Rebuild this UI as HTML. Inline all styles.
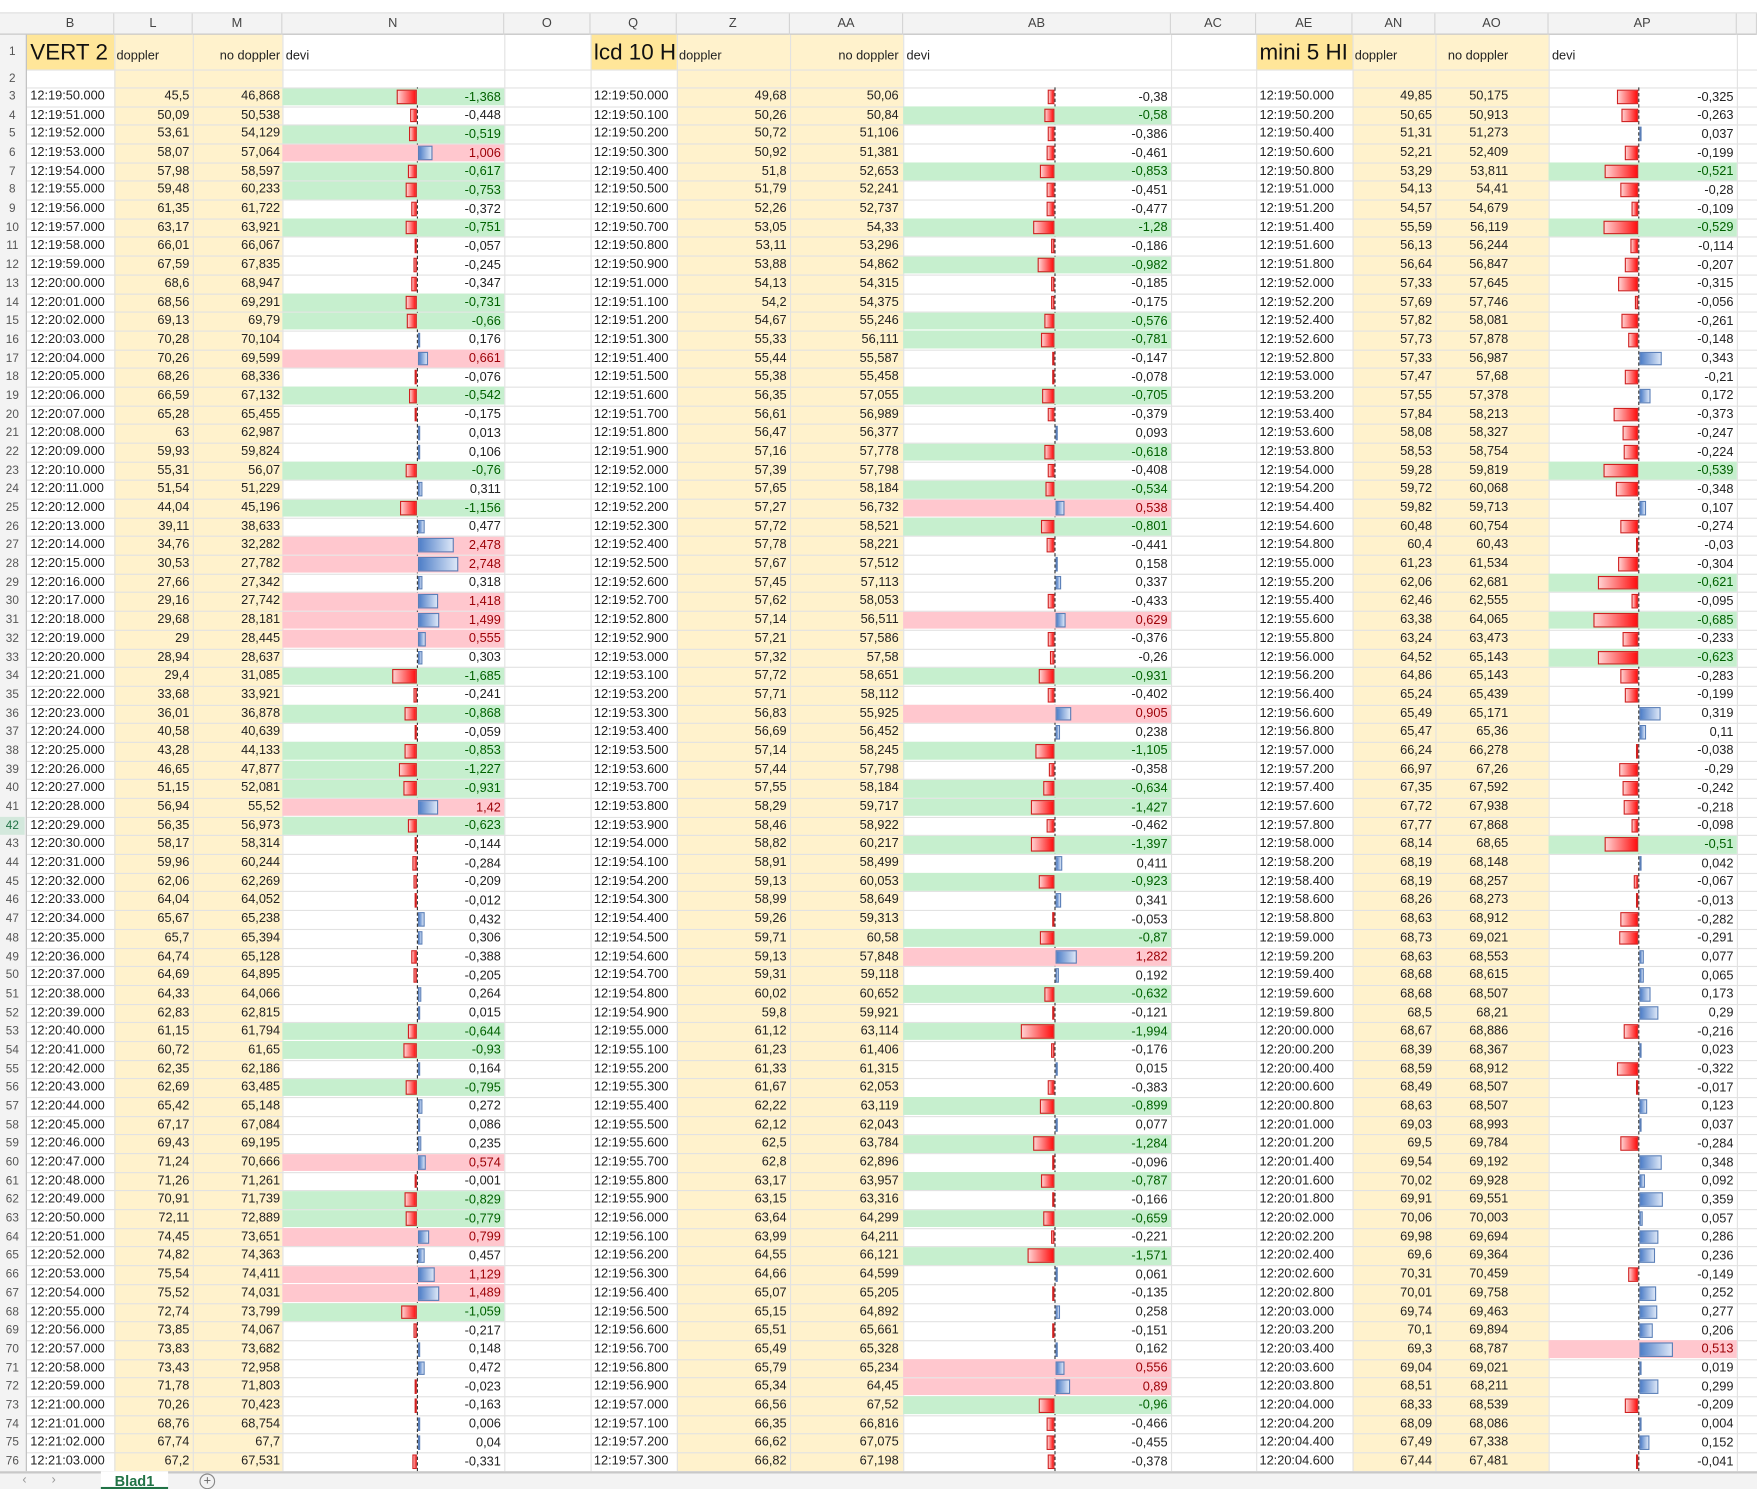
<!DOCTYPE html>
<html><head><meta charset="utf-8">
<style>
html,body{margin:0;padding:0;background:#fff;overflow:hidden}
#wrap{position:relative;width:1568px;height:1329px;transform:scale(1.12054);transform-origin:0 0;font-family:"Liberation Sans",sans-serif;font-size:11.4px;color:#222}
.c{position:absolute;white-space:nowrap;overflow:hidden;box-sizing:border-box;line-height:16.7px}
.vl{position:absolute;width:1px;background:#e2e2e2}
.hl{position:absolute;height:1px;background:#e2e2e2}
</style></head><body>
<div id="wrap"></div>
<script>
// ---- data ----
const vertDoppler=[45.5,50.09,53.61,58.07,57.98,59.48,61.35,63.17,66.01,67.59,68.6,68.56,69.13,70.28,70.26,68.26,66.59,65.28,63,59.93,55.31,51.54,44.04,39.11,34.76,30.53,27.66,29.16,29.68,29,28.94,29.4,33.68,36.01,40.58,43.28,46.65,51.15,56.94,56.35,58.17,59.96,62.06,64.04,65.67,65.7,64.74,64.69,64.33,62.83,61.15,60.72,62.35,62.69,65.42,67.17,69.43,71.24,71.26,70.91,72.11,74.45,74.82,75.54,75.52,72.74,73.85,73.83,73.43,71.78,70.26,68.76,67.74,67.2];
const vertNoDoppler=[46.868,50.538,54.129,57.064,58.597,60.233,61.722,63.921,66.067,67.835,68.947,69.291,69.79,70.104,69.599,68.336,67.132,65.455,62.987,59.824,56.07,51.229,45.196,38.633,32.282,27.782,27.342,27.742,28.181,28.445,28.637,31.085,33.921,36.878,40.639,44.133,47.877,52.081,55.52,56.973,58.314,60.244,62.269,64.052,65.238,65.394,65.128,64.895,64.066,62.815,61.794,61.65,62.186,63.485,65.148,67.084,69.195,70.666,71.261,71.739,72.889,73.651,74.363,74.411,74.031,73.799,74.067,73.682,72.958,71.803,70.423,68.754,67.7,67.531];
const lcdDoppler=[49.68,50.26,50.72,50.92,51.8,51.79,52.26,53.05,53.11,53.88,54.13,54.2,54.67,55.33,55.44,55.38,56.35,56.61,56.47,57.16,57.39,57.65,57.27,57.72,57.78,57.67,57.45,57.62,57.14,57.21,57.32,57.72,57.71,56.83,56.69,57.14,57.44,57.55,58.29,58.46,58.82,58.91,59.13,58.99,59.26,59.71,59.13,59.31,60.02,59.8,61.12,61.23,61.33,61.67,62.22,62.12,62.5,62.8,63.17,63.15,63.64,63.99,64.55,64.66,65.07,65.15,65.51,65.49,65.79,65.34,66.56,66.35,66.62,66.82];
const lcdNoDoppler=[50.06,50.84,51.106,51.381,52.653,52.241,52.737,54.33,53.296,54.862,54.315,54.375,55.246,56.111,55.587,55.458,57.055,56.989,56.377,57.778,57.798,58.184,56.732,58.521,58.221,57.512,57.113,58.053,56.511,57.586,57.58,58.651,58.112,55.925,56.452,58.245,57.798,58.184,59.717,58.922,60.217,58.499,60.053,58.649,59.313,60.58,57.848,59.118,60.652,59.921,63.114,61.406,61.315,62.053,63.119,62.043,63.784,62.896,63.957,63.316,64.299,64.211,66.121,64.599,65.205,64.892,65.661,65.328,65.234,64.45,67.52,66.816,67.075,67.198];
const miniDoppler=[49.85,50.65,51.31,52.21,53.29,54.13,54.57,55.59,56.13,56.64,57.33,57.69,57.82,57.73,57.33,57.47,57.55,57.84,58.08,58.53,59.28,59.72,59.82,60.48,60.4,61.23,62.06,62.46,63.38,63.24,64.52,64.86,65.24,65.49,65.47,66.24,66.97,67.35,67.72,67.77,68.14,68.19,68.19,68.26,68.63,68.73,68.63,68.68,68.68,68.5,68.67,68.39,68.59,68.49,68.63,69.03,69.5,69.54,70.02,69.91,70.06,69.98,69.6,70.31,70.01,69.74,70.1,69.3,69.04,68.51,68.33,68.09,67.49,67.44];
const miniNoDoppler=[50.175,50.913,51.273,52.409,53.811,54.41,54.679,56.119,56.244,56.847,57.645,57.746,58.081,57.878,56.987,57.68,57.378,58.213,58.327,58.754,59.819,60.068,59.713,60.754,60.43,61.534,62.681,62.555,64.065,63.473,65.143,65.143,65.439,65.171,65.36,66.278,67.26,67.592,67.938,67.868,68.65,68.148,68.257,68.273,68.912,69.021,68.553,68.615,68.507,68.21,68.886,68.367,68.912,68.507,68.507,68.993,69.784,69.192,69.928,69.551,70.003,69.694,69.364,70.459,69.758,69.463,69.894,68.787,69.021,68.211,68.539,68.086,67.338,67.481];
const timeStepsMs=[1000,100,200];
const tableTitles=["VERT 2","lcd 10 H","mini 5 HI"];

const W=document.getElementById('wrap');
const R0=78, RH=16.685;
function div(cls,x,y,w,h,css,txt){
  const d=document.createElement('div');
  d.className=cls;
  d.style.left=x+'px';d.style.top=y+'px';
  if(w!=null)d.style.width=w+'px';
  if(h!=null)d.style.height=h+'px';
  if(css)d.style.cssText+=css;
  if(txt!=null)d.textContent=txt;
  W.appendChild(d);return d;
}
function fmt(v){let s=(Math.round(v*1000)/1000).toString();return s.replace('.',',');}
function fmtTime(ms){const t=new Date(Date.UTC(2000,0,1,12,19,50)+ms);
  const p=n=>String(n).padStart(2,'0');
  return p(t.getUTCHours())+':'+p(t.getUTCMinutes())+':'+p(t.getUTCSeconds())+'.'+String(t.getUTCMilliseconds()).padStart(3,'0');}

// top strip & column headers
let e;
e=div('c',0,0,1568,12,'background:#fff;border-bottom:1px solid #ddd');


e=div('c',0,12,1568,19,'background:#f3f3f3;border-bottom:1px solid #bdbdbd');


const cols=[["B",24,102],["L",102,172],["M",172,252],["N",252,450],["O",450,527],["Q",527,604],["Z",604,705],["AA",705,806],["AB",806,1045],["AC",1045,1121],["AE",1121,1207],["AN",1207,1281],["AO",1281,1382],["AP",1382,1550],["",1550,1568]];

// backgrounds
function bg(x1,x2,y1,y2,color,name){const b=div('c',x1,y1,x2-x1,y2-y1,'background:'+color);
  
  }
const yEnd=R0+74*RH;
[[102,252],[604,806],[1207,1382]].forEach(r=>bg(r[0],r[1],31,yEnd,'#fff2cc','yellow-column-fill'));
[[24,102],[527,604],[1121,1207]].forEach(r=>bg(r[0],r[1],31,62,'#ffe699','title-fill'));

// gridlines
cols.forEach(c=>{const l=div('vl',c[2],31,null,yEnd-31);l.style.height=(yEnd-31)+'px';});
div('hl',0,62,1568,null);div('hl',0,78,1568,null);
for(let i=1;i<=74;i++)div('hl',0,R0+i*RH,1568,null);

cols.forEach(c=>{const h=div('c',c[1],12,c[2]-c[1],19,'text-align:center;line-height:19px;color:#444;border-right:1px solid #d4d4d4',c[0]);
  
  });

// row numbers
const rn=div('c',0,31,24,yEnd-31,'background:#f3f3f3;border-right:1px solid #bdbdbd');


function rowY(r){return r==1?31:(r==2?62:R0+(r-3)*RH);}
function rowH(r){return r==1?31:(r==2?16:RH);}
for(let r=1;r<=76;r++){const n=div('c',0,rowY(r),22,rowH(r),'color:#555;font-size:10.5px;text-align:center;line-height:'+rowH(r)+'px'+(r==42?';color:#217346;background:#d3e8dc':''),String(r));
  
  }

// tables
const tables=[
 {t:[24,102],d:[102,172],n:[172,252],v:[252,450],ax:372,sc:13,dop:vertDoppler,nod:vertNoDoppler,step:timeStepsMs[0],title:tableTitles[0],nr:5,vr:3,noR:2},
 {t:[527,604],d:[604,705],n:[705,806],v:[806,1045],ax:941,sc:15,dop:lcdDoppler,nod:lcdNoDoppler,step:timeStepsMs[1],title:tableTitles[1],nr:3,vr:3,noR:4},
 {t:[1121,1207],d:[1207,1281],n:[1281,1382],v:[1382,1550],ax:1462,sc:58,dop:miniDoppler,nod:miniNoDoppler,step:timeStepsMs[2],title:tableTitles[2],nr:3,vr:3,noR:36}
];
tables.forEach((T,ti)=>{
  let h=div('c',T.t[0]+3,31,T.d[0]-T.t[0]-3,31,'font-size:20px;line-height:33px;color:#111',T.title);
  
  
  h=div('c',T.d[0]+2,31,70,31,'line-height:38px',"doppler");
  
  
  h=div('c',T.n[0],31,T.n[1]-T.n[0]-T.noR,31,'line-height:38px;text-align:right',"no doppler");
  
  
  h=div('c',T.v[0]+3,31,60,31,'line-height:38px',"devi");
  
  
  // axis
  const ax=div('c',T.ax,R0,1,74*RH,'border-left:1px dashed #333');
  
  
  for(let i=0;i<T.dop.length;i++){
    const y=R0+i*RH;
    const dv=Math.round((T.dop[i]-T.nod[i])*1000)/1000;
    let c=div('c',T.t[0]+3,y,T.t[1]-T.t[0]-3,RH,'',fmtTime(i*T.step));
    
    
    c=div('c',T.d[0],y,T.d[1]-T.d[0]-T.vr,RH,'text-align:right',fmt(T.dop[i]));
    
    
    c=div('c',T.n[0],y,T.n[1]-T.n[0]-T.noR,RH,'text-align:right',fmt(T.nod[i]));
    
    
    let fill='',col='#222';
    if(dv<-0.5){fill='background:#c6efce;';col='#006100';}
    else if(dv>0.5){fill='background:#ffc7ce;';col='#9c0006';}
    c=div('c',T.v[0],y+0.5,T.v[1]-T.v[0],RH-1,fill+'text-align:right;padding-right:3px;color:'+col,fmt(dv));
    
    
    const len=Math.max(2,Math.abs(dv)*T.sc);
    let b;
    if(dv<0){b=div('c',T.ax-len,y+2,len,RH-4,'background:linear-gradient(90deg,#ffd0d0,#ff1010);border:1px solid #d02020');}
    else{b=div('c',T.ax+1,y+2,len,RH-4,'background:linear-gradient(90deg,#4f7fc8,#dbe6f7);border:1px solid #5a7fb8');}
    
    
  }
});

// bottom tab bar
e=div('c',0,yEnd,1568,1329-yEnd,'background:#f3f3f3;border-top:2px solid #c8c8c8');


e=div('c',20,yEnd+1,12,14,'color:#999;line-height:14px','‹');


e=div('c',46,yEnd+1,12,14,'color:#999;line-height:14px','›');


e=div('c',90,yEnd,60,1329-yEnd,'background:#fff;color:#217346;font-weight:bold;font-size:13px;text-align:center;line-height:18px;border-bottom:2px solid #217346','Blad1');


e=div('c',178,yEnd+2,14,14,'border:1px solid #888;border-radius:50%;text-align:center;line-height:13px;color:#666','+');


</script>
</body></html>
